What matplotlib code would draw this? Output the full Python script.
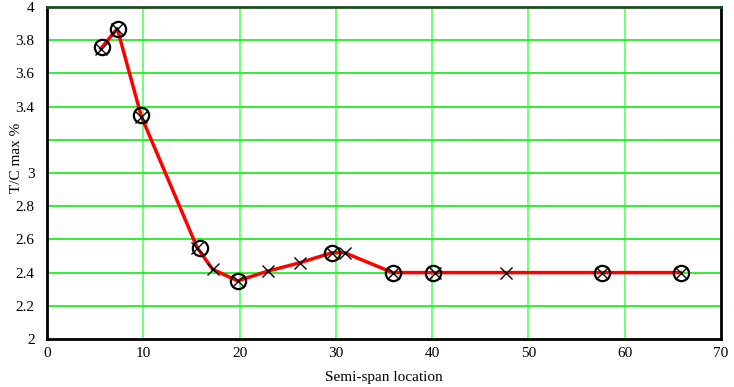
import matplotlib
matplotlib.use("Agg")
import matplotlib.pyplot as plt

# X-marker series (joined by the red line)
x_line = [5.6, 7.3, 9.8, 15.6, 17.2, 19.8, 23.0, 26.3, 29.6, 30.9, 35.9, 40.3, 47.7, 57.6, 65.8]
y_line = [3.75, 3.87, 3.34, 2.55, 2.42, 2.35, 2.41, 2.46, 2.52, 2.52, 2.40, 2.40, 2.40, 2.40, 2.40]

# circle-marker series
x_circ = [5.7, 7.4, 9.8, 15.9, 19.8, 29.6, 35.9, 40.1, 57.6, 65.8]
y_circ = [3.76, 3.87, 3.35, 2.55, 2.35, 2.52, 2.40, 2.40, 2.40, 2.40]

x_ticks = [0, 10, 20, 30, 40, 50, 60, 70]
y_ticks = [2, 2.2, 2.4, 2.6, 2.8, 3, 3.2, 3.4, 3.6, 3.8, 4]
y_tick_labels = ["2", "2.2", "2.4", "2.6", "2.8", "3", "", "3.4", "3.6", "3.8", "4"]

plt.rcParams['font.family'] = ['Liberation Serif', 'DejaVu Serif']

fig = plt.figure(figsize=(7.34, 3.87), dpi=100)
ax = fig.add_axes([47 / 734, 1 - 339 / 387, (721 - 47) / 734, (339 - 7) / 387])

ax.set_xlim(0, 70)
ax.set_ylim(2, 4)

# grid
for xv in x_ticks[1:-1]:
    ax.axvline(xv, color='#66ff66', lw=1.3, zorder=0)
for yv in y_ticks[1:-1]:
    ax.axhline(yv, color='#22ee22', lw=1.3, zorder=0)

ax.plot(x_line, y_line, color='red', lw=2.5, marker='x', ms=9,
        mec='black', mew=1.0, zorder=3)
ax.plot(x_circ, y_circ, ls='none', marker='o', ms=11, mfc='none',
        mec='black', mew=1.6, zorder=4)

ax.set_xticks(x_ticks)
ax.set_yticks(y_ticks)
ax.set_yticklabels(y_tick_labels)
ax.tick_params(length=0, labelsize=11)
ax.tick_params(axis='y', pad=9)
ax.tick_params(axis='x', pad=6)

for side in ['left', 'bottom', 'right']:
    ax.spines[side].set_color('black')
    ax.spines[side].set_linewidth(2)
ax.spines['top'].set_color('#1f4d1f')
ax.spines['top'].set_linewidth(2)

ax.set_xlabel("Semi-span location", fontsize=11, labelpad=8)
fig.text(16 / 734, 1 - 158 / 387, "T/C max %", rotation=90, fontsize=11,
         ha='center', va='center')

fig.savefig("out.png", dpi=100)
